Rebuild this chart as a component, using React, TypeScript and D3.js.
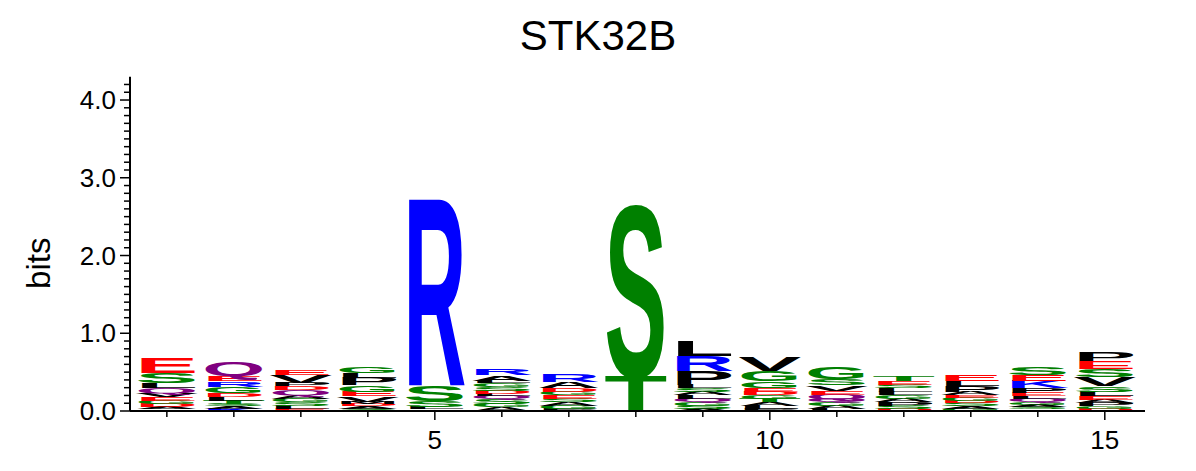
import React from "react";
import * as d3 from "d3";

const title = "STK32B";
const positions = d3.range(1, 16);
// each stack listed top -> bottom: [letter, bits]
const stacks: [string, number][][] = [
  [["E",0.2],["S",0.13],["L",0.07],["Q",0.06],["V",0.05],["E",0.05],["G",0.04],["D",0.04],["A",0.03],["T",0.02]],
  [["Q",0.18],["E",0.07],["R",0.07],["G",0.08],["D",0.05],["L",0.05],["T",0.04],["S",0.03],["A",0.03],["K",0.03]],
  [["E",0.07],["V",0.1],["P",0.04],["D",0.05],["Q",0.06],["A",0.05],["G",0.05],["S",0.04],["L",0.04],["E",0.03]],
  [["G",0.08],["L",0.07],["P",0.09],["G",0.08],["E",0.06],["V",0.07],["M",0.03],["D",0.03],["A",0.03],["S",0.03]],
  [["R",2.38],["S",0.2],["S",0.08],["L",0.03],["A",0.02]],
  [["R",0.08],["A",0.07],["L",0.03],["G",0.05],["S",0.05],["D",0.04],["L",0.03],["Q",0.04],["S",0.06],["G",0.04],["A",0.05]],
  [["R",0.1],["A",0.08],["D",0.05],["G",0.04],["E",0.04],["S",0.05],["A",0.04],["G",0.04],["P",0.03]],
  [["S",2.17],["T",0.44]],
  [["L",0.2],["R",0.2],["P",0.17],["L",0.05],["S",0.05],["A",0.04],["L",0.04],["Q",0.05],["G",0.04],["S",0.04],["A",0.03]],
  [["V",0.17],["G",0.13],["G",0.08],["E",0.05],["D",0.05],["G",0.05],["T",0.04],["A",0.04],["L",0.04],["P",0.03]],
  [["G",0.15],["S",0.08],["V",0.07],["E",0.05],["Q",0.06],["Q",0.04],["G",0.04],["A",0.04],["L",0.03]],
  [["T",0.06],["E",0.04],["S",0.05],["L",0.04],["L",0.05],["G",0.05],["A",0.04],["P",0.04],["S",0.04],["D",0.03]],
  [["E",0.08],["L",0.07],["P",0.08],["A",0.04],["E",0.03],["G",0.04],["D",0.03],["S",0.04],["A",0.03],["G",0.03]],
  [["S",0.1],["E",0.08],["K",0.09],["P",0.06],["E",0.04],["L",0.03],["Q",0.05],["G",0.03],["A",0.03],["S",0.03],["D",0.02]],
  [["P",0.12],["E",0.1],["S",0.1],["V",0.12],["S",0.07],["L",0.06],["E",0.05],["A",0.04],["P",0.04],["G",0.03],["D",0.03]],
];
const yTicks = [0, 1, 2, 3, 4];
const xTicks = [5, 10, 15];

const color = (c: string) => {
  if ("GSTYC".includes(c)) return "#008000";
  if ("NQ".includes(c)) return "#800080";
  if ("KRH".includes(c)) return "#0000ff";
  if ("DE".includes(c)) return "#ff0000";
  return "#000000";
};

export default function App() {
  const x = d3.scaleLinear().domain([0.45, 15.6]).range([130, 1145]);
  const y = d3.scaleLinear().domain([0, 4.3]).range([411, 76.7]);
  const w = x(1) - x(0) - 4;
  const font = "'Liberation Sans', Arial, sans-serif";
  return (
    <svg width={1196} height={471} style={{ position: "absolute", left: 0, top: 0 }}>
      <rect width={1196} height={471} fill="#fff" />
      <text x={598} y={50} textAnchor="middle" fontSize={42} fontFamily={font}>{title}</text>
      <text transform={`translate(50,${y(1.9)}) rotate(-90)`} textAnchor="middle" fontSize={33} fontFamily={font}>bits</text>
      {stacks.map((st, i) => {
        let acc = 0;
        const els = [...st].reverse().map(([c, h], j) => {
          const y0 = y(acc);
          acc += h;
          const ph = y0 - y(acc);
          return (
            <text key={j} x={0} y={0} fontSize={100} fontWeight="bold" fontFamily={font}
              textLength={100} lengthAdjust="spacingAndGlyphs" fill={color(c)}
              transform={`translate(${x(positions[i]) - w / 2},${y0}) scale(${w / 100},${ph / 68.6})`}>{c}</text>
          );
        });
        return <g key={i}>{els}</g>;
      })}
      <line x1={130} x2={130} y1={y(4.3)} y2={411} stroke="#000" strokeWidth={2} />
      {d3.range(0, 43).map((k) => (
        <line key={k} x1={k % 10 === 0 ? 120 : 124} x2={130} y1={y(k / 10)} y2={y(k / 10)} stroke="#000" strokeWidth={1.5} />
      ))}
      {yTicks.map((t) => (
        <text key={t} x={116} y={y(t) + 9} textAnchor="end" fontSize={26} fontFamily={font}>{t.toFixed(1)}</text>
      ))}
      <line x1={130} x2={1145} y1={411} y2={411} stroke="#000" strokeWidth={2} />
      {positions.map((p) => (
        <line key={p} x1={x(p)} x2={x(p)} y1={411} y2={xTicks.includes(p) ? 420 : 417} stroke="#000" strokeWidth={1.5} />
      ))}
      {xTicks.map((t) => (
        <text key={t} x={x(t)} y={449} textAnchor="middle" fontSize={26} fontFamily={font}>{t}</text>
      ))}
    </svg>
  );
}
